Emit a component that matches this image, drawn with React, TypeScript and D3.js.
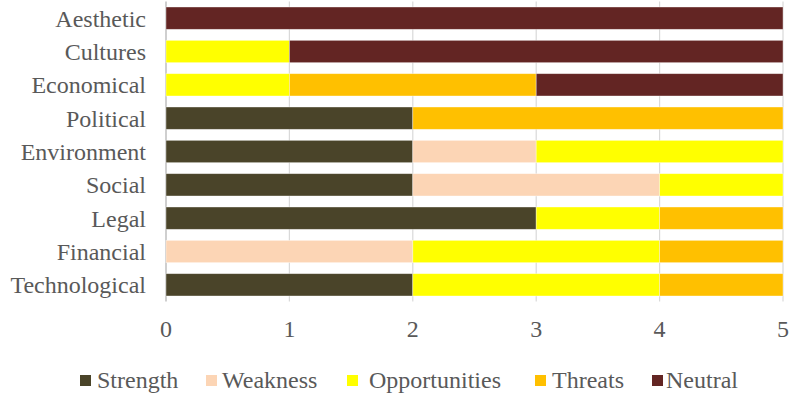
import React from "react";
import * as d3 from "d3";

const categories = [
  "Aesthetic",
  "Cultures",
  "Economical",
  "Political",
  "Environment",
  "Social",
  "Legal",
  "Financial",
  "Technological",
];

const seriesNames = ["Strength", "Weakness", "Opportunities", "Threats", "Neutral"];
const seriesColors = ["#4a4429", "#fcd5b5", "#ffff00", "#ffc000", "#632523"];

// Values per category, in the order of `categories`
const strength = [0, 0, 0, 2, 2, 2, 3, 0, 2];
const weakness = [0, 0, 0, 0, 1, 2, 0, 2, 0];
const opportunities = [0, 1, 1, 0, 2, 1, 1, 2, 2];
const threats = [0, 0, 2, 3, 0, 0, 1, 1, 1];
const neutral = [5, 4, 2, 0, 0, 0, 0, 0, 0];

const xTicks = [0, 1, 2, 3, 4, 5];

const W = 793;
const H = 395;
const FONT = "'Liberation Serif', 'Times New Roman', serif";
const TEXT = "#595959";
const FS = 24;

export default function App() {
  const series = [strength, weakness, opportunities, threats, neutral];
  const rows = categories.map((c, i) => {
    const r: Record<string, number | string> = { category: c };
    seriesNames.forEach((s, k) => (r[s] = series[k][i]));
    return r;
  });
  const stacked = d3.stack<any>().keys(seriesNames)(rows);

  const x = d3.scaleLinear().domain([0, 5]).range([166, 783]);
  const y = d3
    .scaleBand<string>()
    .domain(categories)
    .range([1.5, 301.5])
    .paddingInner(0.33)
    .paddingOuter(0.165);

  const legendItems = [
    { name: "Strength", sx: 80, tx: 97 },
    { name: "Weakness", sx: 206, tx: 222 },
    { name: "Opportunities", sx: 347, tx: 369 },
    { name: "Threats", sx: 535, tx: 552 },
    { name: "Neutral", sx: 652, tx: 666 },
  ];

  return (
    <svg
      width={W}
      height={H}
      style={{ position: "absolute", left: 0, top: 0, background: "#fff" }}
      fontFamily={FONT}
    >
      {/* vertical gridlines */}
      {xTicks.map((t) => (
        <line
          key={t}
          x1={x(t)}
          x2={x(t)}
          y1={1.5}
          y2={301.5}
          stroke={t === 0 ? "#bfbfbf" : "#d9d9d9"}
          strokeWidth={t === 0 ? 1.5 : 1.2}
        />
      ))}

      {/* stacked bars */}
      {stacked.map((layer, k) =>
        layer.map((d, i) =>
          d[1] - d[0] > 0 ? (
            <rect
              key={`${k}-${i}`}
              x={x(d[0])}
              y={y(categories[i])}
              width={x(d[1]) - x(d[0])}
              height={y.bandwidth()}
              fill={seriesColors[k]}
              stroke="#ffffff"
              strokeOpacity={0.5}
              strokeWidth={0.75}
            />
          ) : null
        )
      )}

      {/* category labels */}
      {categories.map((c) => (
        <text
          key={c}
          x={146}
          y={(y(c) as number) + y.bandwidth() / 2 + 8.5}
          textAnchor="end"
          fontSize={FS}
          fill={TEXT}
        >
          {c}
        </text>
      ))}

      {/* x tick labels */}
      {xTicks.map((t) => (
        <text key={t} x={x(t)} y={337} textAnchor="middle" fontSize={FS} fill={TEXT}>
          {t}
        </text>
      ))}

      {/* legend */}
      {legendItems.map((l, k) => (
        <g key={l.name}>
          <rect x={l.sx} y={375} width={11} height={11} fill={seriesColors[k]} />
          <text x={l.tx} y={388} fontSize={FS} fill={TEXT}>
            {l.name}
          </text>
        </g>
      ))}
    </svg>
  );
}
